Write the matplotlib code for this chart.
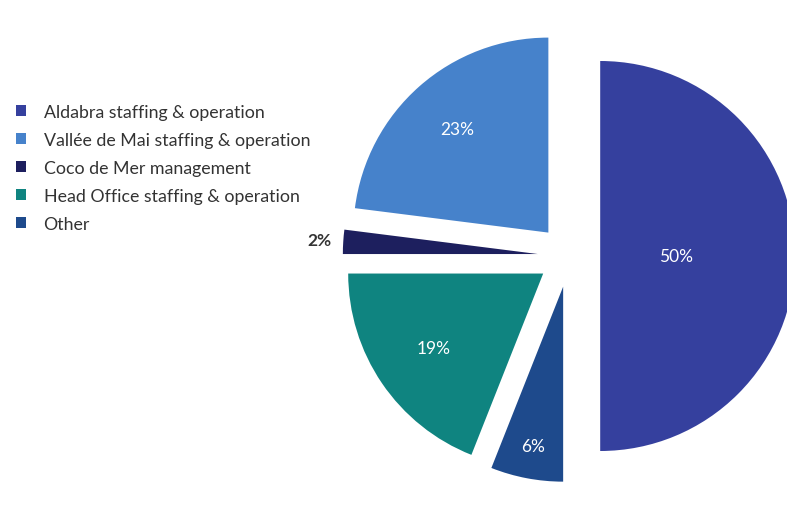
import matplotlib.pyplot as plt
import numpy as np

plt.rcParams['font.family'] = ['Lato', 'DejaVu Sans']

# pie order (counter-clockwise from 12 o'clock)
categories = ['Vallée de Mai staffing & operation', 'Coco de Mer management',
              'Head Office staffing & operation', 'Other', 'Aldabra staffing & operation']
shares = [23, 2, 19, 6, 50]
colors = ['#4682CB', '#1D1F5E', '#0F8480', '#1E4A8C', '#35409E']
legend_order = ['Aldabra staffing & operation', 'Vallée de Mai staffing & operation',
                'Coco de Mer management', 'Head Office staffing & operation', 'Other']

# label distance from each (exploded) slice apex, in radii
label_dist = [0.71, 1.12, 0.68, 0.83, 0.39]
label_col = ['white', '#333333', 'white', 'white', 'white']

R = 195
fig = plt.figure(figsize=(7.87, 5.10), dpi=100)
ax = fig.add_axes([0, 0, 1, 1])

# explode is in data units here (pie drawn in pixel-sized coordinates)
wedges, texts, autotexts = ax.pie(shares, colors=colors, startangle=90, counterclock=True,
                                  explode=[0.16 * R] * 5, radius=R, center=(569, 253),
                                  autopct='%d%%', wedgeprops=dict(linewidth=0),
                                  textprops=dict(fontsize=12.5))

for w, t, d, c in zip(wedges, autotexts, label_dist, label_col):
    mid = np.deg2rad((w.theta1 + w.theta2) / 2)
    cx, cy = w.center
    t.set_position((cx + d * w.r * np.cos(mid), cy + d * w.r * np.sin(mid)))
    t.set_color(c)
    if c != 'white':
        t.set_fontweight('bold')

ax.set_xlim(0, 787)
ax.set_ylim(0, 510)
ax.set_aspect('equal')
ax.axis('off')

handles = [wedges[categories.index(n)] for n in legend_order]
leg = ax.legend(handles, legend_order, loc='upper left', bbox_to_anchor=(0.0, 0.826),
                frameon=False, handlelength=0.55, handleheight=0.55, handletextpad=1.0,
                labelspacing=0.68, fontsize=12.8)
for t in leg.get_texts():
    t.set_color('#333333')

fig.savefig('out.png', dpi=100, facecolor='white')
